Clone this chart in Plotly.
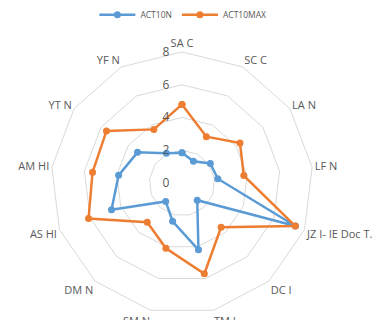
import plotly.graph_objects as go

categories = ["SA C", "SC C", "LA N", "LF N", "JZ I- IE Doc T.", "DC I", "TM I",
              "SM N", "DM N", "AS HI", "AM HI", "YT N", "YF N"]
act10n = [1.85, 1.5, 2.1, 2.2, 7.4, 1.4, 4.2, 2.4, 1.5, 4.6, 3.9, 3.3, 2.05]
act10max = [4.8, 3.2, 4.3, 3.8, 7.4, 3.6, 5.7, 4.1, 3.2, 6.1, 5.5, 5.6, 3.7]
radial_ticks = [0, 2, 4, 6, 8]

series = [("ACT10N", act10n, "#5B9BD5"), ("ACT10MAX", act10max, "#ED7D31")]

fig = go.Figure()
for name, vals, color in series:
    fig.add_trace(go.Scatterpolar(
        r=vals + vals[:1],
        theta=categories + categories[:1],
        mode="lines+markers",
        name=name,
        line=dict(color=color, width=2.5),
        marker=dict(color=color, size=7),
    ))

cx, cy, rad = 182, 180, 134
W, H = 381, 320
fig.update_layout(
    width=W, height=H,
    margin=dict(l=0, r=0, t=0, b=0),
    paper_bgcolor="white",
    plot_bgcolor="white",
    font=dict(family="Open Sans, Liberation Sans, sans-serif", color="#595959"),
    showlegend=True,
    legend=dict(orientation="h", x=0.48, y=0.975, xanchor="center", yanchor="middle",
                font=dict(size=8.5, color="#595959"), itemwidth=36,
                bgcolor="rgba(0,0,0,0)"),
    polar=dict(
        domain=dict(x=[(cx - rad) / W, (cx + rad) / W],
                    y=[1 - (cy + rad) / H, 1 - (cy - rad) / H]),
        bgcolor="white",
        gridshape="linear",
        radialaxis=dict(range=[0, 8], tickvals=radial_ticks,
                        ticktext=[str(t) for t in radial_ticks],
                        angle=90, tickangle=90, side="counterclockwise",
                        showline=False, ticks="outside", ticklen=8,
                        tickcolor="rgba(0,0,0,0)",
                        gridcolor="#D9D9D9", gridwidth=1,
                        tickfont=dict(size=12, color="#595959")),
        angularaxis=dict(rotation=90, direction="clockwise", showgrid=False,
                         showline=True, linecolor="#D9D9D9", linewidth=1,
                         ticks="", tickfont=dict(size=11, color="#595959")),
    ),
)

fig.write_html("out.html")
